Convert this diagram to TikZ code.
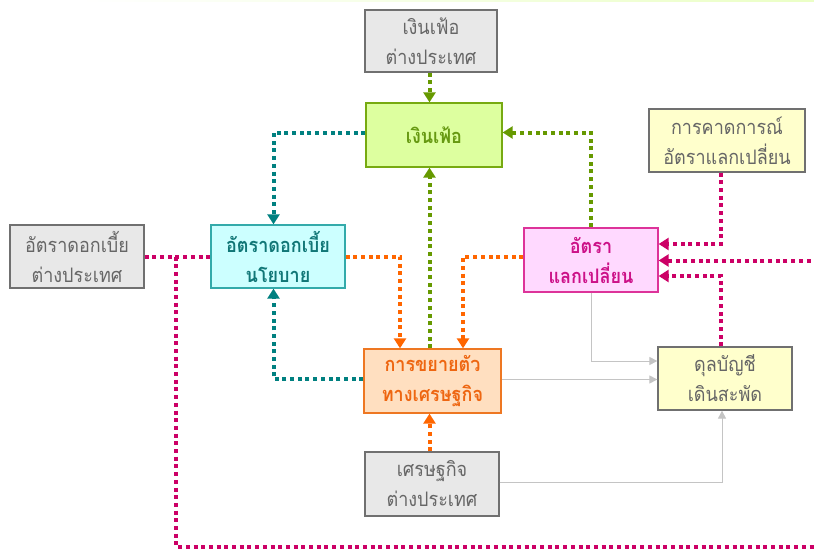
\documentclass[tikz,border=0pt]{standalone}
\usepackage{fontspec}
\newfontfamily\thai[Script=Thai, FakeStretch=0.9]{Loma}
\usetikzlibrary{arrows.meta}

\definecolor{grayfill}{HTML}{E8E8E8}
\definecolor{grayline}{HTML}{707070}
\definecolor{graytext}{HTML}{666666}
\definecolor{greenfill}{HTML}{DDFF9F}
\definecolor{greenline}{HTML}{77AA11}
\definecolor{greentext}{HTML}{669911}
\definecolor{cyanfill}{HTML}{CCFFFF}
\definecolor{cyanline}{HTML}{33AAAA}
\definecolor{tealtext}{HTML}{117777}
\definecolor{pinkfill}{HTML}{FFD9FF}
\definecolor{pinkline}{HTML}{DD3399}
\definecolor{pinktext}{HTML}{CC1188}
\definecolor{orangefill}{HTML}{FFDFC0}
\definecolor{orangeline}{HTML}{EE7722}
\definecolor{orangetext}{HTML}{EE6611}
\definecolor{yellowfill}{HTML}{FFFFCC}
\definecolor{tealdot}{HTML}{008080}
\definecolor{greendot}{HTML}{669900}
\definecolor{orangedot}{HTML}{FF6600}
\definecolor{magdot}{HTML}{CC0066}
\definecolor{thinlink}{HTML}{C4C4C4}

\newcommand\boxfont{\thai\fontsize{20}{30}\selectfont}
\newcommand\boldboxfont{\thai\bfseries\fontsize{20}{30}\selectfont}

\tikzset{
  box/.style={draw, line width=1.3pt, rectangle, inner sep=0pt, align=center,
    font=\boxfont},
  graybox/.style={box, fill=grayfill, draw=grayline, text=graytext},
  yellowbox/.style={box, fill=yellowfill, draw=grayline, text=graytext},
  greenbox/.style={box, fill=greenfill, draw=greenline, text=greentext, font=\boldboxfont},
  cyanbox/.style={box, fill=cyanfill, draw=cyanline, text=tealtext, font=\boldboxfont},
  pinkbox/.style={box, fill=pinkfill, draw=pinkline, text=pinktext, font=\boldboxfont},
  orangebox/.style={box, fill=orangefill, draw=orangeline, text=orangetext, font=\boldboxfont},
  dotlink/.style={line width=4pt, dash pattern=on 4pt off 3.7pt,
    -{Triangle[width=12pt,length=10pt]}},
  tealflow/.style={dotlink, draw=tealdot},
  greenflow/.style={dotlink, draw=greendot},
  orangeflow/.style={dotlink, draw=orangedot},
  magflow/.style={dotlink, draw=magdot},
  thinflow/.style={line width=1pt, draw=thinlink, -{Triangle[width=8pt,length=8pt]}},
}

\begin{document}
\begin{tikzpicture}[x=1pt, y=-1pt]
\clip (0,0) rectangle (814,551);
\fill[white] (0,0) rectangle (814,551);
\shade[left color=white, right color=greenfill!60] (80,0) rectangle (814,1.6);

% boxes
\node[graybox, minimum width=132pt, minimum height=62pt] (F1) at (431,41) {เงินเฟ้อ\\ต่างประเทศ};
\node[greenbox, minimum width=136pt, minimum height=64pt] (G) at (434,135) {เงินเฟ้อ};
\node[cyanbox, minimum width=134pt, minimum height=63pt] (C) at (278,256.5) {อัตราดอกเบี้ย\\นโยบาย};
\node[graybox, minimum width=134pt, minimum height=63pt] (I) at (77,256.5) {อัตราดอกเบี้ย\\ต่างประเทศ};
\node[pinkbox, minimum width=134pt, minimum height=64pt] (X) at (591,260) {อัตรา\\แลกเปลี่ยน};
\node[yellowbox, minimum width=156pt, minimum height=63pt] (E) at (727,140.5) {การคาดการณ์\\อัตราแลกเปลี่ยน};
\node[orangebox, minimum width=137pt, minimum height=64pt] (O) at (432.5,381) {การขยายตัว\\ทางเศรษฐกิจ};
\node[yellowbox, minimum width=134pt, minimum height=63pt] (A) at (725,378.5) {ดุลบัญชี\\เดินสะพัด};
\node[graybox, minimum width=134pt, minimum height=64pt] (W) at (432,484) {เศรษฐกิจ\\ต่างประเทศ};

% bend points of the connectors
\coordinate (c429) at (429.5,0);
\coordinate (bGC) at (273.5,132.5);
\coordinate (bXG) at (591,132.5);
\coordinate (bCO) at (400,256.5);
\coordinate (bXO) at (463,257);
\coordinate (bOC) at (273.5,379);
\coordinate (bEX) at (721,244);
\coordinate (bAX) at (721,276);
\coordinate (bL1) at (176,256.5);
\coordinate (bL2) at (176,547);
\coordinate (bL3) at (840,547);
\coordinate (bL4) at (840,260.5);
\coordinate (bXA) at (591.5,361);
\coordinate (bOA) at (0,379.5);
\coordinate (bWA) at (722,482);

% thin grey links to the current account
\draw[thinflow] (X.south -| bXA) |- (A.west |- bXA);
\draw[thinflow] (O.east |- bOA) -- (A.west |- bOA);
\draw[thinflow] (W.east |- bWA) -| (A.south -| bWA);

% inflation links
\draw[greenflow] (F1.south -| c429) -- (G.north -| c429);
\draw[greenflow] (O.north -| c429) -- (G.south -| c429);
\draw[greenflow] (X.north -| bXG) |- (G.east |- bXG);
\draw[tealflow] (G.west |- bGC) -| (C.north -| bGC);

% growth links
\draw[orangeflow] (C.east |- bCO) -| (O.north -| bCO);
\draw[orangeflow] (X.west |- bXO) -| (O.north -| bXO);
\draw[orangeflow] (W.north -| c429) -- (O.south -| c429);
\draw[tealflow] (O.west |- bOC) -| (C.south -| bOC);

% exchange rate links
\draw[magflow] (E.south -| bEX) |- (X.east |- bEX);
\draw[magflow] (A.north -| bAX) |- (X.east |- bAX);
\draw[magflow, -] (I.east |- bL1) -- (C.west |- bL1);
\draw[magflow] (bL1) -- (bL2) -- (bL3) -- (bL4) -- (X.east |- bL4);
\end{tikzpicture}
\end{document}
